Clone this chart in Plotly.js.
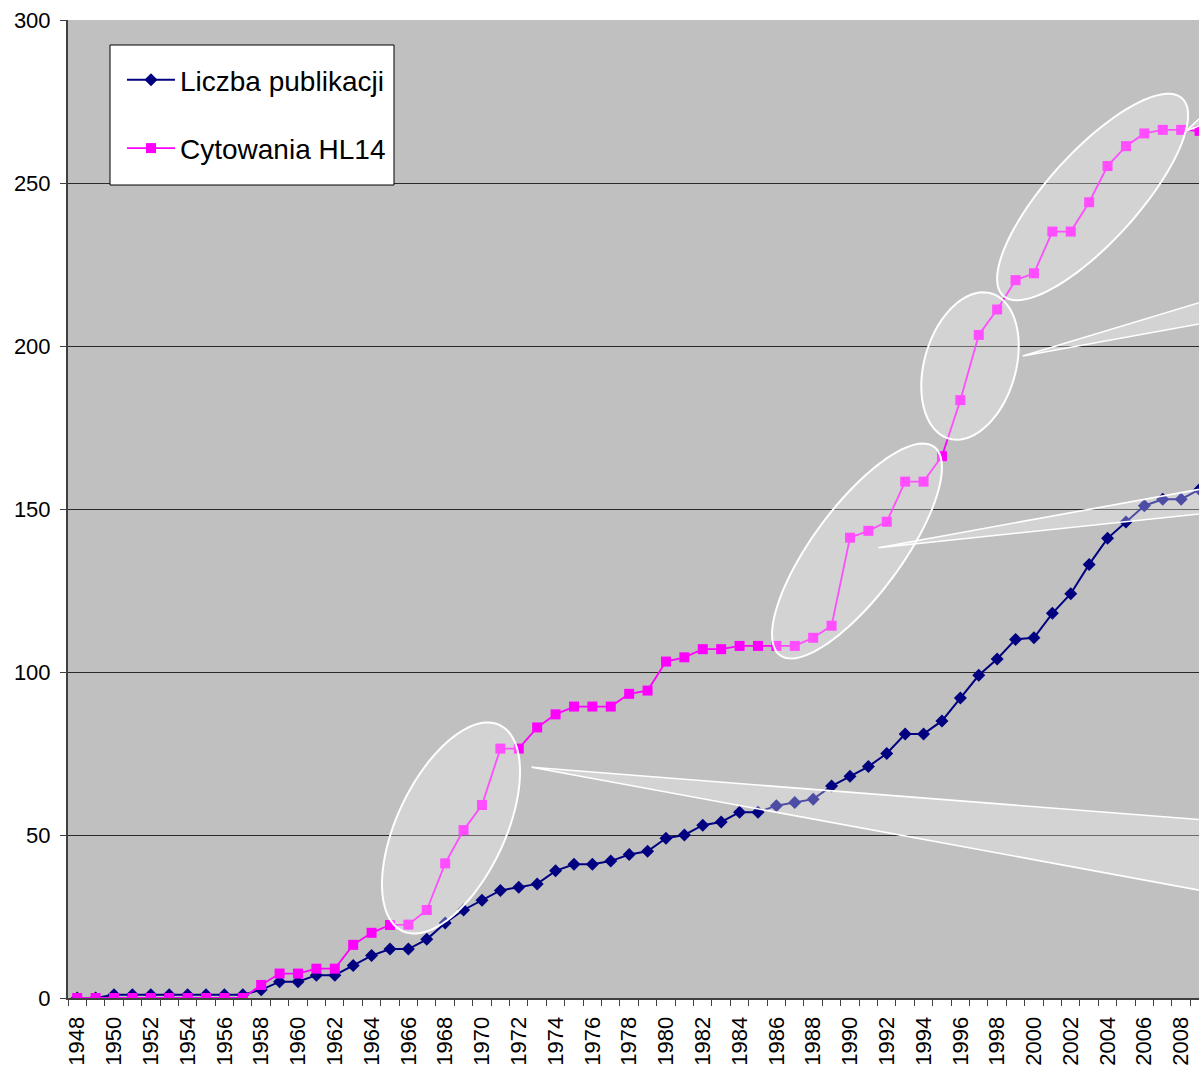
<!DOCTYPE html>
<html>
<head>
<meta charset="utf-8">
<script src="https://cdn.plot.ly/plotly-3.0.1.min.js"></script>
<style>html,body{margin:0;padding:0;background:#fff;}#chart{width:1199px;height:1067px;}</style>
</head>
<body>
<div id="chart"></div>
<script>
// ---- data ----
const years = [];
for (let y = 1948; y <= 2009; y++) years.push(y);

const seriesNames = ["Liczba publikacji", "Cytowania HL14"];

const publikacje = [
  0, 0, 1, 1, 1, 1, 1, 1, 1, 1,          // 1948-1957
  2.5, 5, 5, 7, 7, 10, 13, 15, 15, 18,   // 1958-1967
  23, 27, 30, 33, 34, 35, 39, 41, 41, 42, // 1968-1977
  44, 45, 49, 50, 53, 54, 57, 57, 59, 60, // 1978-1987
  61, 65, 68, 71, 75, 81, 81, 85, 92, 99, // 1988-1997
  104, 110, 110.5, 118, 124, 133, 141, 146, 151, 153, // 1998-2007
  153, 156                               // 2008-2009
];

const cytowania = [
  0, 0, 0, 0, 0, 0, 0, 0, 0, 0,              // 1948-1957
  4, 7.5, 7.5, 9, 9, 16.3, 20, 22.4, 22.5, 27, // 1958-1967
  41.3, 51.5, 59.2, 76.5, 76.5, 83, 87, 89.4, 89.4, 89.4, // 1968-1977
  93.3, 94.3, 103.2, 104.5, 107, 107, 108, 108, 108, 108, // 1978-1987
  110.5, 114.2, 141.2, 143.3, 146.1, 158.4, 158.4, 166.2, 183.4, 203.4, // 1988-1997
  211.2, 220.2, 222.3, 235.1, 235.1, 244.1, 255.2, 261.3, 265.2, 266.3, // 1998-2007
  266.3, 266                                  // 2008-2009
];

const xTickVals = years.filter(y => y % 2 === 0 && y <= 2008);
const yTickVals = [0, 50, 100, 150, 200, 250, 300];

// ---- layout geometry ----
const W = 1199, H = 1067;
const M = {l: 68, r: 0, t: 20, b: 69};
const X_RANGE = [1947.5, 2008.97];
const Y_RANGE = [0, 300];
const FONT = "Liberation Sans, Arial, sans-serif";

function pxToX(px) { return X_RANGE[0] + (px - M.l) / (W - M.l - M.r) * (X_RANGE[1] - X_RANGE[0]); }
function pyToY(py) { return Y_RANGE[0] + (H - M.b - py) / (H - M.t - M.b) * (Y_RANGE[1] - Y_RANGE[0]); }

// rotated ellipse (screen-space definition) -> path in data coordinates
function ellipsePath(cx, cy, a, b, deg) {
  const phi = deg * Math.PI / 180;
  const ux = Math.cos(phi), uy = -Math.sin(phi);
  const vx = Math.sin(phi), vy = Math.cos(phi);
  let d = "";
  const n = 96;
  for (let i = 0; i < n; i++) {
    const t = 2 * Math.PI * i / n;
    const px = cx + a * Math.cos(t) * ux + b * Math.sin(t) * vx;
    const py = cy + a * Math.cos(t) * uy + b * Math.sin(t) * vy;
    d += (i === 0 ? "M" : "L") + pxToX(px).toFixed(4) + "," + pyToY(py).toFixed(3);
  }
  return d + "Z";
}
function wedgePath(ax, ay, pts) {
  let d = "M" + pxToX(ax).toFixed(4) + "," + pyToY(ay).toFixed(3);
  pts.forEach(p => { d += "L" + pxToX(p[0]).toFixed(4) + "," + pyToY(p[1]).toFixed(3); });
  return d + "Z";
}

const bubbleFill = "rgba(255,255,255,0.30)";
const bubbleLine = {color: "#ffffff", width: 2};

const ellipses = [
  [451, 828, 113.9, 54.1, 64.7],
  [857, 551, 129.6, 44.4, 53.5],
  [970, 366, 75.6, 45.7, 73.7],
  [1092.6, 197, 133.2, 45.1, 47.8]
];
const wedges = [
  [531.7, 767.3, [[1260, 824.3], [1260, 901.3]]],
  [878.3, 547.7, [[1260, 478.3], [1260, 507.6]]],
  [1022.7, 356, [[1260, 284.3], [1260, 312.9]]],
  [1186, 131, [[1260, 62.9], [1260, 102.5]]]
];

const shapes = [];
ellipses.forEach(e => shapes.push({
  type: "path", xref: "x", yref: "y", layer: "above",
  path: ellipsePath(e[0], e[1], e[2], e[3], e[4]),
  fillcolor: bubbleFill, line: bubbleLine
}));
wedges.forEach(w => shapes.push({
  type: "path", xref: "x", yref: "y", layer: "above",
  path: wedgePath(w[0], w[1], w[2]),
  fillcolor: bubbleFill, line: {color: "#ffffff", width: 1.6}
}));
// legend box
shapes.push({
  type: "rect", xref: "paper", yref: "paper", layer: "above",
  x0: (110 - M.l) / (W - M.l - M.r), x1: (394 - M.l) / (W - M.l - M.r),
  y0: (H - M.b - 185) / (H - M.t - M.b), y1: (H - M.b - 45) / (H - M.t - M.b),
  fillcolor: "#ffffff", line: {color: "#000000", width: 1}
});

const traces = [
  {
    x: years, y: publikacje, name: seriesNames[0], type: "scatter", mode: "lines+markers",
    legendgroup: "a",
    line: {color: "#000080", width: 2},
    marker: {symbol: "diamond", size: 10, color: "#000080"}
  },
  {
    x: years, y: cytowania, name: seriesNames[1], type: "scatter", mode: "lines+markers",
    legendgroup: "b",
    line: {color: "#ff00ff", width: 1.8},
    marker: {symbol: "square", size: 10, color: "#ff00ff"}
  }
];

const boundaries = years.map(y => y - 0.5);

const layout = {
  width: W, height: H,
  margin: M,
  paper_bgcolor: "#ffffff",
  plot_bgcolor: "#c0c0c0",
  font: {family: FONT, size: 22, color: "#000000"},
  showlegend: true,
  legend: {
    x: (122 - M.l) / (W - M.l - M.r), xanchor: "left",
    y: (H - M.b - 55) / (H - M.t - M.b), yanchor: "top",
    bgcolor: "rgba(0,0,0,0)", borderwidth: 0,
    font: {family: FONT, size: 28, color: "#000000"},
    traceorder: "grouped", tracegroupgap: 29, itemwidth: 48
  },
  xaxis: {
    type: "linear", range: X_RANGE, fixedrange: true,
    tickmode: "array", tickvals: xTickVals, ticktext: xTickVals.map(String),
    tickangle: -90, ticks: "", ticklabelstandoff: 8,
    tickfont: {family: FONT, size: 22, color: "#000000"},
    showgrid: false, zeroline: false,
    showline: true, linecolor: "#404040", linewidth: 2,
    minor: {tickmode: "array", tickvals: boundaries, ticks: "outside", ticklen: 6, tickcolor: "#404040", tickwidth: 1, showgrid: false}
  },
  yaxis: {
    range: Y_RANGE, fixedrange: true,
    tickmode: "array", tickvals: yTickVals,
    ticks: "outside", ticklen: 6, tickcolor: "#404040", ticklabelstandoff: 5,
    tickfont: {family: FONT, size: 22, color: "#000000"},
    showgrid: true, gridcolor: "#2a2a2a", gridwidth: 1,
    zeroline: false,
    showline: true, linecolor: "#404040", linewidth: 2
  },
  shapes: shapes
};

Plotly.newPlot("chart", traces, layout, {displayModeBar: false, staticPlot: true});
</script>
</body>
</html>
